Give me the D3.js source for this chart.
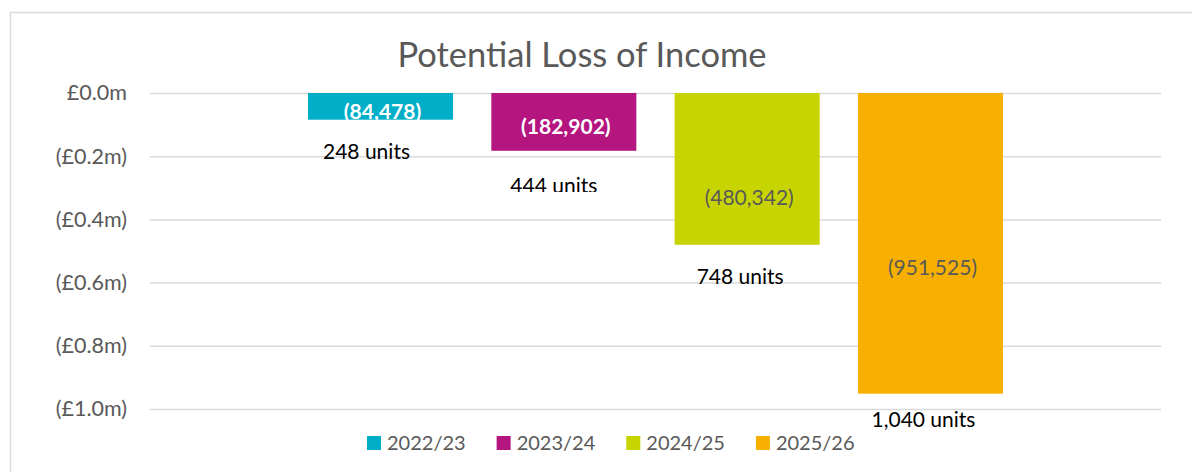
<!DOCTYPE html>
<html>
<head>
  <meta charset="utf-8">
  <title>Potential Loss of Income</title>
  <script type="text/javascript" src="https://d3js.org/d3.v7.min.js"></script>
  <style type="text/css">
    body {
      margin: 0px;
      background: #fff;
      font-family: Lato, "Open Sans", sans-serif;
    }
  </style>
</head>
<body>
  <svg width="1192" height="472"></svg>
  <script type="text/javascript">
    // chart data
    var years = ["2022/23", "2023/24", "2024/25", "2025/26"];
    var loss = [-84478, -182902, -480342, -951525];
    var units = [248, 444, 748, 1040];
    var colours = ["#00aec8", "#b5157f", "#c8d400", "#f8b000"];
    var yTicks = [0, -200000, -400000, -600000, -800000, -1000000];

    var svg = d3.select("svg");

    // frame around the chart (runs off the right edge in the original)
    svg.append("rect")
      .attr("x", 10.5).attr("y", 12.5)
      .attr("width", 1300).attr("height", 500)
      .attr("fill", "none")
      .attr("stroke", "#d9d9d9")
      .attr("stroke-width", 1.5);

    svg.append("text")
      .attr("x", 582).attr("y", 67)
      .attr("text-anchor", "middle")
      .attr("font-size", 34.5)
      .attr("fill", "#595959")
      .text("Potential Loss of Income");

    var y = d3.scaleLinear().domain([-1000000, 0]).range([409, 93]);
    var x = d3.scaleBand().domain(years).range([150, 1161])
      .paddingInner(0.209).paddingOuter(0.862);

    // gridlines + tick labels
    var yAxis = d3.axisLeft(y)
      .tickValues(yTicks)
      .tickSize(-(1161 - 150))
      .tickPadding(23)
      .tickFormat(function(v){
        var s = "£" + Math.abs(v / 1e6).toFixed(1) + "m";
        return v < 0 ? "(" + s + ")" : s;
      });

    var axisG = svg.append("g")
      .attr("transform", "translate(150,0)")
      .call(yAxis);
    axisG.select(".domain").remove();
    axisG.selectAll(".tick line").attr("stroke", "#d9d9d9").attr("stroke-width", 1.5);
    axisG.selectAll(".tick text")
      .attr("fill", "#595959")
      .attr("font-size", 21.5)
      .attr("font-family", "Lato, sans-serif");

    svg.append("g").selectAll("rect")
      .data(years)
      .join("rect")
      .attr("x", function(d){ return x(d); })
      .attr("y", y(0))
      .attr("width", x.bandwidth())
      .attr("height", function(d, i){ return y(loss[i]) - y(0); })
      .attr("fill", function(d, i){ return colours[i]; });

    // value labels were placed by hand in the original, so nudge each one
    var valueDy = [26, 41, 112, 182];
    var valueStyle = [
      {fill: "#fff", weight: "bold"},
      {fill: "#fff", weight: "bold"},
      {fill: "#595959", weight: "normal"},
      {fill: "#595959", weight: "normal"}
    ];
    var fmt = d3.format(",");

    svg.append("g").selectAll("text")
      .data(years)
      .join("text")
      .attr("x", function(d){ return x(d) + x.bandwidth() / 2 + 2; })
      .attr("y", function(d, i){ return y(0) + valueDy[i]; })
      .attr("text-anchor", "middle")
      .attr("font-size", 21)
      .attr("font-weight", function(d, i){ return valueStyle[i].weight; })
      .attr("fill", function(d, i){ return valueStyle[i].fill; })
      .text(function(d, i){ return "(" + fmt(-loss[i]) + ")"; });

    // unit labels sit in text boxes below each bar
    var unitDx = [-14, -10, -7, -7];
    var unitDy = [39, 42, 39, 33];

    svg.append("clipPath").attr("id", "cut444")
      .append("rect").attr("x", 0).attr("y", 0).attr("width", 1192).attr("height", 192);

    svg.append("g").selectAll("text")
      .data(years)
      .join("text")
      .attr("x", function(d){ return x(d) + x.bandwidth() / 2; })
      .attr("dx", function(d, i){ return unitDx[i]; })
      .attr("y", function(d, i){ return y(loss[i]) + unitDy[i]; })
      .attr("text-anchor", "middle")
      .attr("font-size", 21)
      .attr("fill", "#000")
      .attr("clip-path", function(d, i){ return i === 1 ? "url(#cut444)" : null; })
      .text(function(d, i){ return fmt(units[i]) + " units"; });

    // legend
    var legend = svg.append("g").attr("transform", "translate(367,0)");
    var lx = 0;
    years.forEach(function(yr, i){
      var g = legend.append("g").attr("transform", "translate(" + lx + ",0)");
      g.append("rect")
        .attr("x", 0).attr("y", 436)
        .attr("width", 14).attr("height", 14)
        .attr("fill", colours[i]);
      var t = g.append("text")
        .attr("x", 20).attr("y", 450)
        .attr("font-size", 20)
        .attr("fill", "#595959")
        .text(yr);
      lx += 20 + t.node().getComputedTextLength() + 31;
    });
  </script>
</body>
</html>
